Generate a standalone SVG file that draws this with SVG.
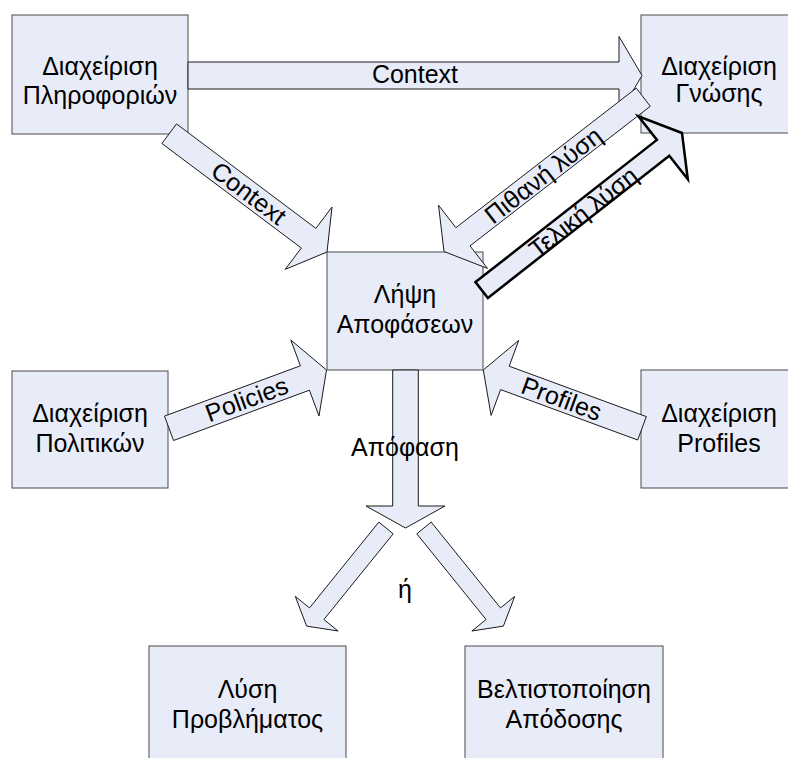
<svg xmlns="http://www.w3.org/2000/svg" width="788" height="758" viewBox="0 0 788 758">
  <style>
    .box { fill: #e8ecf8; stroke: #4a4a4a; stroke-width: 1; }
    .arrow { fill: #e8ecf8; stroke: #1a1a1a; stroke-width: 1; stroke-linejoin: miter; }
    .arrow-bold { fill: #e8ecf8; stroke: #000; stroke-width: 2.5; stroke-linejoin: miter; }
    text { font-family: "Liberation Sans", Arial, sans-serif; font-size: 25px; fill: #000; text-anchor: middle; }
  </style>
  <rect width="788" height="758" fill="#fff"/>

  <!-- nodes -->
  <g id="node-info">
    <rect class="box" x="12" y="15" width="176" height="119"/>
    <text x="100" y="75">Διαχείριση</text>
    <text x="100" y="104">Πληροφοριών</text>
  </g>
  <g id="node-knowledge">
    <rect class="box" x="641" y="15" width="160" height="118"/>
    <text x="719" y="75">Διαχείριση</text>
    <text x="719" y="102">Γνώσης</text>
  </g>
  <g id="node-decision">
    <rect class="box" x="327" y="252" width="156" height="118"/>
    <text x="405" y="303">Λήψη</text>
    <text x="405" y="333">Αποφάσεων</text>
  </g>
  <g id="node-policies">
    <rect class="box" x="12" y="371" width="156" height="117"/>
    <text x="90" y="422">Διαχείριση</text>
    <text x="90" y="452">Πολιτικών</text>
  </g>
  <g id="node-profiles">
    <rect class="box" x="641" y="370" width="160" height="118"/>
    <text x="719" y="422">Διαχείριση</text>
    <text x="719" y="452">Profiles</text>
  </g>
  <g id="node-problem">
    <rect class="box" x="149" y="646" width="197" height="130"/>
    <text x="247.5" y="698">Λύση</text>
    <text x="247.5" y="728">Προβλήματος</text>
  </g>
  <g id="node-performance">
    <rect class="box" x="465" y="646" width="198" height="130"/>
    <text x="564" y="698">Βελτιστοποίηση</text>
    <text x="564" y="728">Απόδοσης</text>
  </g>

  <!-- connectors: block arrows -->
  <g id="connectors">
    <polygon class="arrow" points="188,62 619,62 619,36.5 642,75.5 619,114.5 619,89 188,89"/>
    <text x="415" y="83">Context</text>

    <polygon class="arrow" points="176.5,123.9 315.9,228.4 332.0,207.0 327,252 285.2,269.4 301.3,248.0 161.9,143.5"/>
    <text transform="translate(249,193) rotate(36.86)" x="0" y="9">Context</text>

    <polygon class="arrow" points="636.3,88.1 455.9,227.7 438.5,205.2 444,251.5 487.5,268.4 470.0,245.9 650.3,106.3"/>
    <text transform="translate(543,175) rotate(-37.75)" x="0" y="9">Πιθανή λύση</text>

    <polygon class="arrow-bold" points="475.5,282.1 656.9,139.9 638.4,116.3 682,133 687.8,179.3 669.3,155.7 487.9,297.9"/>
    <text transform="translate(583,212) rotate(-38.1)" x="0" y="9">Τελική λύση</text>

    <polygon class="arrow" points="164.5,416.1 300.4,365.8 290.8,340.0 326.5,370 319.0,416.0 309.4,390.2 173.5,440.5"/>
    <text transform="translate(246.5,399) rotate(-20.3)" x="0" y="9">Policies</text>

    <polygon class="arrow" points="646.3,416.6 509.2,366.2 518.7,340.4 483.3,370 491.1,415.4 500.6,389.6 637.7,440.0"/>
    <text transform="translate(561.7,398.5) rotate(20.2)" x="0" y="9">Profiles</text>

    <polygon class="arrow" points="392.7,370 392.7,506 366,506 405.5,528 445,506 418.3,506 418.3,370"/>
    <text x="405" y="456">Απόφαση</text>

    <polygon class="arrow" points="378.8,522.1 309.5,607.9 295.3,596.4 306.6,626.1 338.1,631.0 323.9,619.5 393.2,533.8"/>
    <polygon class="arrow" points="431.2,522.1 500.5,607.9 514.7,596.4 503.4,626.1 471.9,631.0 486.1,619.5 416.8,533.8"/>
    <text x="405" y="598">ή</text>
  </g>
</svg>
